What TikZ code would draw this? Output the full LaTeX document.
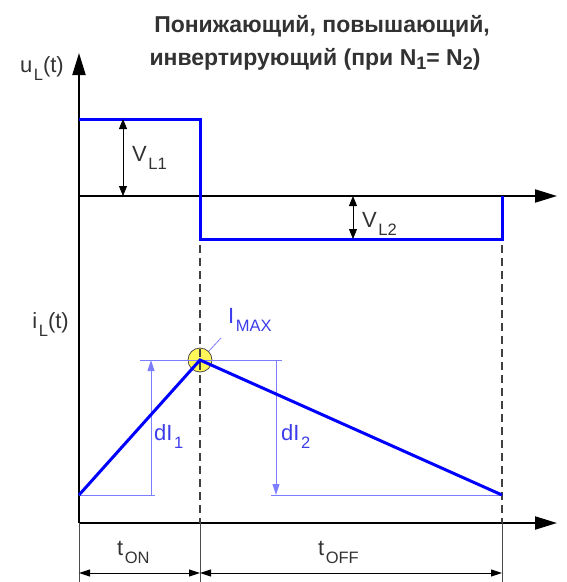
\documentclass[tikz,border=0pt]{standalone}
\usepackage{fontspec}
\setmainfont{Liberation Sans}
\usepackage{xcolor}
\usetikzlibrary{arrows.meta, calc}

\definecolor{wave}{RGB}{0,0,255}
\definecolor{helper}{RGB}{125,125,255}
\definecolor{bluetxt}{RGB}{60,60,235}
\definecolor{txt}{RGB}{50,50,50}

\newcommand{\lowsub}[1]{\kern1.5pt\raisebox{-8pt}{\fontsize{16.5}{16.5}\selectfont #1}}
\newcommand{\titlesub}[1]{\raisebox{-4pt}{\fontsize{18}{18}\selectfont #1}}

\begin{document}
\begin{tikzpicture}[
  x=1pt, y=-1pt,
  axis/.style={line width=2pt, -{Triangle[length=22pt, width=13pt]}},
  wavefm/.style={wave, line width=3pt, line join=miter},
  guide/.style={helper, line width=1pt},
  dimline/.style={line width=1pt, {Triangle[length=11pt, width=7pt]}-{Triangle[length=11pt, width=7pt]}},
  every node/.style={inner sep=0pt},
  lbl/.style={font=\fontsize{22}{22}\selectfont, txt},
]
  \useasboundingbox (0,0) rectangle (566,582);

  % title
  \node[anchor=base, font=\fontsize{23}{23}\selectfont\bfseries, txt] (title1) at (322,32) {Понижающий, повышающий,};
  \node[anchor=base, font=\fontsize{23}{23}\selectfont\bfseries, txt] (title2) at (315,65) {инвертирующий (при N\titlesub{1}= N\titlesub{2})};

  % peak marker
  \node[circle, draw=gray!60!black, fill=yellow!65, line width=0.8pt, minimum size=24pt] (imax) at (200,360) {};

  % axes
  \draw[axis] (79,523) -- (79,53);
  \draw[axis] (79,196) -- (557,196);
  \draw[axis] (79,523) -- (557,523);
  \node[lbl, anchor=base east] (ulabel) at (64,72) {u\lowsub{L}(t)};
  \node[lbl, anchor=base east] (ilabel) at (69,328) {i\lowsub{L}(t)};

  % switching instants
  \foreach \x in {200, 502} {
    \draw[gray!50!black, line width=1.2pt, dash pattern=on 8pt off 5pt] (\x,245) -- (\x,523);
  }
  \foreach \x in {79, 200, 502} {
    \draw[gray!60!black, line width=0.8pt] (\x,523) -- (\x,582);
  }

  % time intervals
  \coordinate (t0) at (79,573);
  \coordinate (t1) at (200,573);
  \coordinate (t2) at (502,573);
  \draw[dimline] (t0) -- (t1);
  \draw[dimline] (t1) -- (t2);
  \node[lbl, anchor=base west] (ton) at (117,555) {t\lowsub{ON}};
  \node[lbl, anchor=base west] (toff) at (318,555) {t\lowsub{OFF}};

  % inductor voltage
  \draw[wavefm] (79,119) -- (200,119) -- (200,239) -- (502,239) -- (502,196);
  \draw[line width=0.8pt, {Triangle[length=10pt, width=8pt]}-{Triangle[length=10pt, width=8pt]}] (123,119) -- (123,196);
  \draw[line width=0.8pt, {Triangle[length=10pt, width=8pt]}-{Triangle[length=10pt, width=8pt]}] (353,196) -- (353,239);
  \node[lbl, anchor=base west] (vl1) at (132,161) {V\lowsub{L1}};
  \node[lbl, anchor=base west] (vl2) at (362,227) {V\lowsub{L2}};

  % inductor current helpers
  \draw[guide] (79,495) -- (155,495);
  \draw[guide] (140,360) -- (282,360);
  \draw[guide] (271,495) -- (502,495);
  \draw[guide, -{Triangle[length=11pt, width=7pt]}] (151,495) -- (151,360);
  \draw[guide, -{Triangle[length=11pt, width=7pt]}] (276,360) -- (276,495);
  \coordinate (lead) at (221,338);
  \draw[helper, line width=0.8pt] (imax.north east) -- (lead);
  \node[lbl, bluetxt, anchor=base west] (di1) at (154,440) {dI\lowsub{1}};
  \node[lbl, bluetxt, anchor=base west] (di2) at (281,440) {dI\lowsub{2}};
  \node[lbl, bluetxt, anchor=base west] (imaxlbl) at (228,323) {I\lowsub{MAX}};

  % inductor current
  \draw[wavefm] (79,495) -- (imax.center) -- (502,495);
\end{tikzpicture}
\end{document}
